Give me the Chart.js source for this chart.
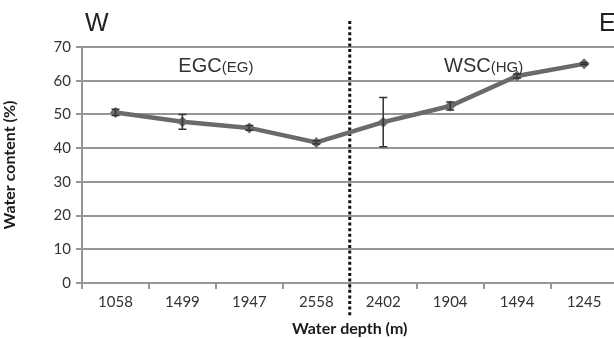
<!DOCTYPE html>
<html>
<head>
<meta charset="utf-8">
<script src="https://cdn.jsdelivr.net/npm/chart.js@4/dist/chart.umd.min.js"></script>
<style>
  html, body { margin: 0; padding: 0; background: #fff; overflow: hidden; }
  #wrap { width: 623px; height: 338px; position: relative; }
</style>
</head>
<body>
<div id="wrap"><canvas id="waterChart"></canvas></div>
<script>
// Daten
const depths = ["1058", "1499", "1947", "2558", "2402", "1904", "1494", "1245"];
const waterContent = [50.6, 47.8, 46.0, 41.7, 47.7, 52.5, 61.4, 65.0];
const errorSize = [0.9, 2.2, 0.7, 0.5, 7.3, 1.2, 0.6, 0.3];
const yTicks = [0, 10, 20, 30, 40, 50, 60, 70];
const groupLabels = [
  { main: "EGC", sub: "(EG)", from: 0, to: 3 },
  { main: "WSC", sub: "(HG)", from: 4, to: 7 }
];
const sideLabels = ["W", "E"];

const GREY = "#6a6a6a";
const GRID = "#969696";
const TEXT = "#333";
const FONT = "Lato, 'Open Sans', sans-serif";

// Fehlerbalken, Trennlinie und Beschriftungen
const extrasPlugin = {
  id: "extras",
  beforeDatasetsDraw(chart) {
    const ctx = chart.ctx;
    const x = chart.scales.x;
    // gepunktete Trennlinie zwischen 2558 und 2402
    const xs = (x.getPixelForValue(3) + x.getPixelForValue(4)) / 2;
    ctx.save();
    ctx.strokeStyle = "#111";
    ctx.lineWidth = 3;
    ctx.setLineDash([3, 2.6]);
    ctx.beginPath();
    ctx.moveTo(xs, 21);
    ctx.lineTo(xs, 316);
    ctx.stroke();
    ctx.restore();
  },
  afterDatasetsDraw(chart) {
    const ctx = chart.ctx;
    const x = chart.scales.x;
    const y = chart.scales.y;
    ctx.save();
    ctx.strokeStyle = "#333";
    ctx.lineWidth = 1.5;
    waterContent.forEach((v, i) => {
      const px = x.getPixelForValue(i);
      const top = y.getPixelForValue(v + errorSize[i]);
      const bot = y.getPixelForValue(v - errorSize[i]);
      ctx.beginPath();
      ctx.moveTo(px, top); ctx.lineTo(px, bot);
      ctx.moveTo(px - 4, top); ctx.lineTo(px + 4, top);
      ctx.moveTo(px - 4, bot); ctx.lineTo(px + 4, bot);
      ctx.stroke();
    });
    ctx.restore();
  },
  afterDraw(chart) {
    const ctx = chart.ctx;
    const x = chart.scales.x;
    ctx.save();
    ctx.fillStyle = "#222";
    ctx.textBaseline = "alphabetic";
    ctx.font = "25px 'Liberation Sans', Arial, sans-serif";
    ctx.textAlign = "left";
    ctx.fillText(sideLabels[0], 85, 31);
    ctx.fillText(sideLabels[1], 599, 31);
    ctx.fillStyle = TEXT;
    groupLabels.forEach(g => {
      const cx = (x.getPixelForValue(g.from) + x.getPixelForValue(g.to)) / 2;
      ctx.font = "20px 'Liberation Sans', Arial, sans-serif";
      const w1 = ctx.measureText(g.main).width;
      ctx.font = "15px 'Liberation Sans', Arial, sans-serif";
      const w2 = ctx.measureText(g.sub).width;
      const left = cx - (w1 + w2) / 2;
      ctx.font = "20px 'Liberation Sans', Arial, sans-serif";
      ctx.fillText(g.main, left, 72);
      ctx.font = "15px 'Liberation Sans', Arial, sans-serif";
      ctx.fillText(g.sub, left + w1, 72);
    });
    ctx.restore();
  }
};

new Chart(document.getElementById("waterChart"), {
  type: "line",
  data: {
    labels: depths,
    datasets: [{
      label: "Water content",
      data: waterContent,
      borderColor: GREY,
      backgroundColor: GREY,
      borderWidth: 4.5,
      pointStyle: "rectRot",
      pointRadius: 5.5,
      pointBorderWidth: 0,
      pointBackgroundColor: GREY,
      tension: 0
    }]
  },
  options: {
    responsive: true,
    maintainAspectRatio: false,
    animation: false,
    layout: { padding: { top: 47, left: 0, right: 0, bottom: 0 } },
    plugins: {
      legend: { display: false },
      tooltip: { enabled: false }
    },
    scales: {
      x: {
        offset: true,
        grid: {
          offset: true,
          drawOnChartArea: false,
          drawTicks: true,
          tickLength: 6,
          color: GRID,
          lineWidth: 2
        },
        border: { color: GRID, width: 2 },
        ticks: {
          color: TEXT,
          font: { family: FONT, size: 15 },
          padding: 4,
          maxRotation: 0
        },
        title: {
          display: true,
          text: "Water depth (m)",
          color: "#1a1a1a",
          font: { family: FONT, size: 16, weight: "bold" },
          padding: { top: 0, bottom: 0 }
        },
        afterFit(scale) { scale.height = 55; }
      },
      y: {
        min: 0,
        max: 70,
        afterBuildTicks(scale) { scale.ticks = yTicks.map(v => ({ value: v })); },
        grid: {
          color: GRID,
          lineWidth: 2,
          tickLength: 6
        },
        border: { color: GRID, width: 2 },
        ticks: {
          color: TEXT,
          font: { family: FONT, size: 15 },
          padding: 5
        },
        title: {
          display: true,
          text: "Water content (%)",
          color: "#1a1a1a",
          font: { family: FONT, size: 16, weight: "bold" },
          padding: { top: 0, bottom: 0 }
        },
        afterFit(scale) { scale.width = 82; }
      }
    }
  },
  plugins: [extrasPlugin]
});
</script>
</body>
</html>
